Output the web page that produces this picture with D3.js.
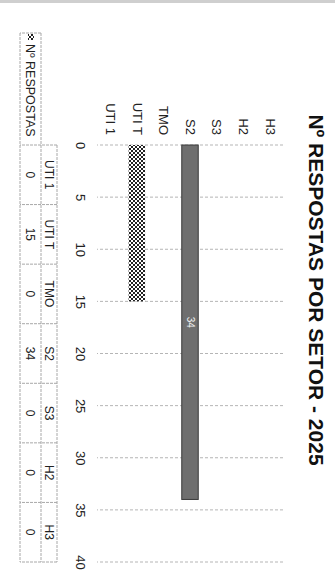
<!DOCTYPE html>
<html><head><meta charset="utf-8">
<script src="https://cdn.jsdelivr.net/npm/d3@7"></script>
<style>html,body{margin:0;padding:0;background:#fff;}svg{display:block;}</style>
</head><body>
<script>
const title = "Nº RESPOSTAS POR SETOR - 2025";
const seriesName = "Nº RESPOSTAS";
const categories = ["UTI 1","UTI T","TMO","S2","S3","H2","H3"];
const values = [0,15,0,34,0,0,0];
const tickValues = [0,5,10,15,20,25,30,35,40];

const W = 335, H = 584;
const svg = d3.select("body").append("svg").attr("width", W).attr("height", H);

const defs = svg.append("defs");
const pat = defs.append("pattern").attr("id","checker").attr("patternUnits","userSpaceOnUse")
  .attr("width",4).attr("height",4);
pat.append("rect").attr("width",4).attr("height",4).attr("fill","#fff");
pat.append("rect").attr("width",2).attr("height",2).attr("fill","#222");
pat.append("rect").attr("x",2).attr("y",2).attr("width",2).attr("height",2).attr("fill","#222");

// scan edge
svg.append("rect").attr("x",0).attr("y",0).attr("width",W).attr("height",3).attr("fill","#cfcfcf");

// chart drawn in landscape orientation then rotated 90deg clockwise
const g = svg.append("g").attr("transform", `translate(${W},0) rotate(90)`);
const font = "'Liberation Sans', Arial, sans-serif";

const x = d3.scaleLinear().domain([0,40]).range([145,562]);
const y = d3.scaleBand().domain(categories.slice().reverse()).range([52,238]).paddingInner(0.38).paddingOuter(0.19);

// title
g.append("text").attr("x",290).attr("y",26).attr("text-anchor","middle")
  .attr("font-family",font).attr("font-weight","bold").attr("font-size",21).attr("fill","#111").text(title);

// gridlines
g.append("g").selectAll("line").data(tickValues).join("line")
  .attr("x1",d=>x(d)).attr("x2",d=>x(d)).attr("y1",52).attr("y2",238)
  .attr("stroke","#b5b5b5").attr("stroke-width",1).attr("stroke-dasharray","3,2");

// tick labels via axis
const xAxis = g.append("g").attr("transform","translate(0,250)")
  .call(d3.axisBottom(x).tickValues(tickValues).tickSize(0).tickPadding(0));
xAxis.select(".domain").remove();
xAxis.selectAll("text").attr("font-family",font).attr("font-size",13).attr("fill","#222");

// category labels
const yAxis = g.append("g").attr("transform","translate(135,0)")
  .call(d3.axisLeft(y).tickSize(0).tickPadding(0));
yAxis.select(".domain").remove();
yAxis.selectAll("text").attr("font-family",font).attr("font-size",13).attr("fill","#222");

// bars
const fills = {"UTI T":"url(#checker)","S2":"#6f6f6f"};
g.append("g").selectAll("rect").data(categories.map((c,i)=>({c,v:values[i]})).filter(d=>d.v>0)).join("rect")
  .attr("x",x(0)).attr("y",d=>y(d.c)).attr("width",d=>x(d.v)-x(0)).attr("height",y.bandwidth())
  .attr("fill",d=>fills[d.c]||"#6f6f6f").attr("stroke",d=>d.c==="S2"?"#3a3a3a":"none").attr("stroke-width",1);

// data label on S2
const s2 = categories.indexOf("S2");
g.append("text").attr("x",(x(0)+x(values[s2]))/2).attr("y",y("S2")+y.bandwidth()/2+3.5)
  .attr("text-anchor","middle").attr("font-family",font).attr("font-size",10).attr("fill","#f2f2f2")
  .text(values[s2]);

// data table
const cols = d3.scaleBand().domain(categories).range([145,562]);
const tb = g.append("g").attr("stroke","#a8a8a8").attr("stroke-width",1).attr("stroke-dasharray","3,1");
tb.append("line").attr("x1",145).attr("x2",562).attr("y1",278).attr("y2",278);
tb.append("line").attr("x1",33).attr("x2",562).attr("y1",294).attr("y2",294);
tb.append("line").attr("x1",33).attr("x2",562).attr("y1",315).attr("y2",315);
tb.append("line").attr("x1",33).attr("x2",33).attr("y1",294).attr("y2",315);
tb.selectAll("line.v").data(categories.concat(["end"])).join("line").attr("class","v")
  .attr("x1",d=>d==="end"?562:cols(d)).attr("x2",d=>d==="end"?562:cols(d))
  .attr("y1",278).attr("y2",315);

g.append("g").selectAll("text").data(categories).join("text")
  .attr("x",d=>cols(d)+cols.bandwidth()/2).attr("y",290).attr("text-anchor","middle")
  .attr("font-family",font).attr("font-size",12).attr("fill","#222").text(d=>d);
g.append("g").selectAll("text").data(values).join("text")
  .attr("x",(d,i)=>cols(categories[i])+cols.bandwidth()/2).attr("y",309).attr("text-anchor","middle")
  .attr("font-family",font).attr("font-size",12).attr("fill","#222").text(d=>d);

// row header with legend key
g.append("rect").attr("x",34).attr("y",301).attr("width",6).attr("height",6).attr("fill","url(#checker)");
g.append("text").attr("x",44).attr("y",309).attr("font-family",font).attr("font-size",12.5).attr("fill","#222").text(seriesName);
</script>
</body></html>
